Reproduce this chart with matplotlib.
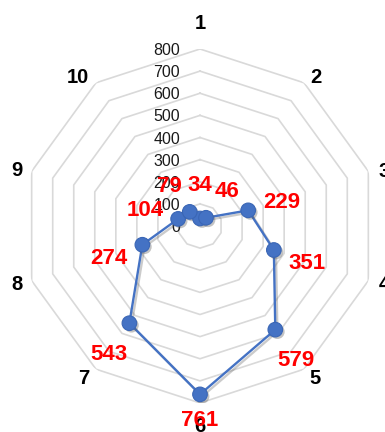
import numpy as np
import matplotlib
matplotlib.use("Agg")
import matplotlib.pyplot as plt
import matplotlib.patheffects as pe

# Series data
categories = ["1", "2", "3", "4", "5", "6", "7", "8", "9", "10"]
values = [34, 46, 229, 351, 579, 761, 543, 274, 104, 79]
grid_levels = [100, 200, 300, 400, 500, 600, 700, 800]
tick_labels = ["0", "100", "200", "300", "400", "500", "600", "700", "800"]

LINE_BLUE = "#4472C4"
GRID_GREY = "#D9D9D9"
FONT = ["Liberation Sans", "DejaVu Sans"]

W, H, DPI = 385, 432, 100
fig = plt.figure(figsize=(W / DPI, H / DPI), dpi=DPI)
cx, cy, R = 200, 206, 177  # centre (px from bottom-left) and outer radius
ax = fig.add_axes([(cx - R) / W, (cy - R) / H, 2 * R / W, 2 * R / H],
                  projection="polar")
ax.set_theta_zero_location("N")
ax.set_theta_direction(-1)
ax.set_ylim(0, grid_levels[-1])
ax.grid(False)
ax.set_xticks([])
ax.set_yticks([])
ax.spines["polar"].set_visible(False)
ax.patch.set_alpha(0)

n = len(categories)
angles = np.linspace(0, 2 * np.pi, n, endpoint=False)
closed = np.append(angles, angles[0])

# Decagon gridlines
for lev in grid_levels:
    ax.plot(closed, [lev] * (n + 1), color=GRID_GREY, lw=1.2, zorder=1)

# Radial value labels
for lab, lev in zip(tick_labels, [0] + grid_levels):
    ax.annotate(lab, xy=(0, lev), xytext=(-20, 0), textcoords="offset pixels",
                ha="right", va="center_baseline", fontsize=11.5, family=FONT,
                color="#1a1a1a", zorder=2)

# Category labels just outside the outer ring
cat_offsets = [(0, 27.5), (12, 7), (16, 2), (16, -2), (11, -7),
               (0, -22), (-12, -7), (-15, -2), (-15, 3), (-18.5, 7)]
for lab, a, off in zip(categories, angles, cat_offsets):
    ax.annotate(lab, xy=(a, grid_levels[-1]), xytext=off,
                textcoords="offset pixels", ha="center", va="center_baseline",
                fontsize=14.5, fontweight="bold", family=FONT, color="black",
                annotation_clip=False)

# Data series with a soft drop shadow
line_shadow = [pe.SimpleLineShadow(offset=(1.5, -1.5), shadow_color="#555555",
                                   alpha=0.3), pe.Normal()]
marker_shadow = [pe.SimplePatchShadow(offset=(1.5, -1.5), shadow_rgbFace="#555555",
                                      alpha=0.35), pe.Normal()]
v_closed = values + values[:1]
ax.plot(closed, v_closed, color=LINE_BLUE, lw=1.7, zorder=3,
        path_effects=line_shadow)
ax.plot(angles, values, linestyle="none", marker="o", markersize=10.5,
        markerfacecolor=LINE_BLUE, markeredgecolor="#3A66B5",
        markeredgewidth=0.8, zorder=4, path_effects=marker_shadow)

# Value labels, pushed radially outward from each point
label_dist = [35, 35, 35, 35, 35, 24, 35, 35, 35, 35]
for v, a, d in zip(values, angles, label_dist):
    ax.annotate(str(v), xy=(a, v),
                xytext=(d * np.sin(a), d * np.cos(a)),
                textcoords="offset pixels", ha="center", va="center_baseline",
                fontsize=16, fontweight="bold", family=FONT, color="#FF0000",
                zorder=5, annotation_clip=False)

fig.savefig("out.png", dpi=DPI)
